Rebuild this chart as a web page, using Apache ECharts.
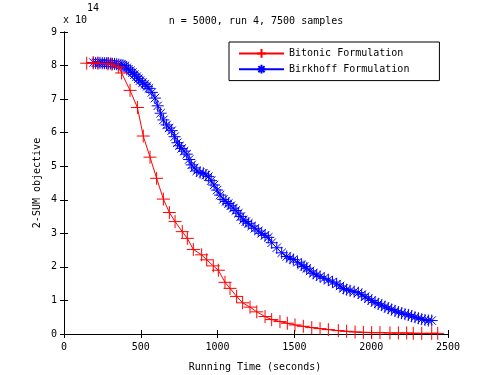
<!DOCTYPE html>
<html>
<head>
<meta charset="utf-8">
<script src="https://cdn.jsdelivr.net/npm/echarts@6/dist/echarts.min.js"></script>
<style>
  html, body { margin: 0; padding: 0; background: #fff; }
  #main { width: 495px; height: 375px; }
</style>
</head>
<body>
<div id="main"></div>
<script>
// values in units of 1e14
var bitonicX = [148, 190, 221, 286, 312, 354, 375, 430, 478, 516, 560, 603, 647, 686, 723, 770, 803, 842, 896, 929,
    972, 1005, 1048, 1081, 1124, 1163, 1211, 1255, 1309, 1352, 1406, 1454, 1504, 1558, 1613, 1667, 1721, 1786, 1840,
    1895, 1949, 2003, 2057, 2122, 2177, 2231, 2274, 2329, 2394, 2433];
var bitonicY = [8.07, 8.08, 8.07, 8.05, 8.04, 7.96, 7.78, 7.26, 6.75, 5.90, 5.27, 4.64, 4.02, 3.62, 3.35, 3.05, 2.85, 2.52, 2.36, 2.21,
    2.03, 1.90, 1.54, 1.36, 1.12, 0.93, 0.80, 0.66, 0.52, 0.43, 0.37, 0.32, 0.27, 0.23, 0.19, 0.16, 0.13, 0.10, 0.08,
    0.06, 0.05, 0.04, 0.04, 0.03, 0.03, 0.03, 0.02, 0.02, 0.02, 0.02];

var birkhoffX = [191, 206, 220, 234, 249, 263, 276, 289, 302, 315, 329, 343, 357, 371, 384, 397, 408, 419, 432, 445,
    459, 473, 484, 495, 511, 527, 540, 553, 572, 592, 610, 629, 647, 668, 684, 701, 720, 738, 752, 766,
    782, 799, 815, 831, 848, 864, 886, 907, 924, 940, 958, 977, 997, 1016, 1037, 1054, 1070, 1086, 1102, 1119,
    1135, 1151, 1167, 1184, 1200, 1222, 1243, 1265, 1287, 1309, 1330, 1352, 1385, 1417, 1450, 1472, 1493, 1520, 1547, 1563,
    1580, 1602, 1623, 1645, 1667, 1694, 1721, 1748, 1775, 1797, 1819, 1840, 1862, 1889, 1916, 1938, 1960, 1981, 2003, 2025,
    2046, 2068, 2089, 2111, 2133, 2155, 2177, 2198, 2220, 2242, 2263, 2285, 2307, 2329, 2350, 2372, 2394];
var birkhoffY = [8.09, 8.08, 8.08, 8.08, 8.07, 8.07, 8.07, 8.07, 8.06, 8.05, 8.05, 8.04, 8.03, 8.02, 8.01, 7.99, 7.93, 7.89, 7.84, 7.79,
    7.73, 7.67, 7.61, 7.55, 7.49, 7.44, 7.38, 7.32, 7.20, 7.03, 6.80, 6.58, 6.38, 6.23, 6.14, 6.06, 5.88, 5.70, 5.61, 5.53,
    5.45, 5.36, 5.20, 5.04, 4.95, 4.86, 4.81, 4.79, 4.74, 4.69, 4.57, 4.44, 4.29, 4.14, 4.01, 3.95, 3.89, 3.82, 3.75, 3.68,
    3.60, 3.50, 3.40, 3.35, 3.30, 3.22, 3.15, 3.07, 3.00, 2.94, 2.88, 2.72, 2.57, 2.42, 2.31, 2.26, 2.22, 2.14, 2.06, 2.01,
    1.96, 1.88, 1.81, 1.76, 1.71, 1.66, 1.61, 1.55, 1.49, 1.43, 1.36, 1.32, 1.29, 1.26, 1.23, 1.17, 1.11, 1.05, 1.00, 0.94,
    0.90, 0.86, 0.81, 0.77, 0.73, 0.69, 0.65, 0.62, 0.59, 0.57, 0.53, 0.50, 0.47, 0.44, 0.42, 0.40, 0.40];

var seriesNames = ['Bitonic Formulation', 'Birkhoff Formulation'];
var titleText = 'n = 5000, run 4, 7500 samples';
var xName = 'Running Time (seconds)';
var yName = '2-SUM objective';

function pairs(xs, ys) {
    var out = [];
    for (var i = 0; i < xs.length; i++) out.push([xs[i], ys[i]]);
    return out;
}

var font = 'DejaVu Sans Mono';
var plus = 'path://M0,5L10,5M5,0L5,10';
var star = 'path://M0,5L10,5M5,0L5,10M1.5,1.5L8.5,8.5M1.5,8.5L8.5,1.5';

var chart = echarts.init(document.getElementById('main'), null, { renderer: 'canvas' });

var axisCommon = {
    type: 'value',
    axisLine: { show: true, lineStyle: { color: '#000', width: 1 } },
    axisTick: { show: true, inside: true, length: 4, lineStyle: { color: '#000' } },
    splitLine: { show: false }
};

function plain(v) { return String(v); }

var option = {
    animation: false,
    backgroundColor: '#fff',
    grid: { left: 64, right: 47, top: 32, bottom: 41 },
    xAxis: [
        Object.assign({}, axisCommon, {
            min: 0, max: 2500, interval: 500, position: 'bottom',
            axisLabel: { color: '#000', fontFamily: font, fontSize: 10, margin: 8, formatter: plain }
        }),
        Object.assign({}, axisCommon, {
            min: 0, max: 2500, interval: 500, position: 'top',
            axisLabel: { show: false }
        })
    ],
    yAxis: [
        Object.assign({}, axisCommon, {
            min: 0, max: 9, interval: 1, position: 'left',
            axisLabel: { color: '#000', fontFamily: font, fontSize: 10, margin: 7, formatter: plain }
        }),
        Object.assign({}, axisCommon, {
            min: 0, max: 9, interval: 1, position: 'right',
            axisLabel: { show: false }
        })
    ],
    legend: {
        orient: 'vertical',
        left: 229, top: 42,
        padding: [6, 30, 6, 9],
        itemWidth: 45, itemHeight: 11, itemGap: 5,
        borderColor: '#000', borderWidth: 1,
        backgroundColor: '#fff',
        textStyle: { color: '#000', fontFamily: font, fontSize: 10 },
        data: seriesNames
    },
    graphic: [
        { type: 'text', style: { text: titleText, x: 256, y: 21, fill: '#000', font: '10px "' + font + '"', textAlign: 'center', textVerticalAlign: 'middle' } },
        { type: 'text', style: { text: 'x 10', x: 63, y: 20, fill: '#000', font: '10px "' + font + '"', textAlign: 'left', textVerticalAlign: 'middle' } },
        { type: 'text', style: { text: '14', x: 87, y: 8, fill: '#000', font: '10px "' + font + '"', textAlign: 'left', textVerticalAlign: 'middle' } },
        { type: 'text', style: { text: xName, x: 255, y: 367, fill: '#000', font: '10px "' + font + '"', textAlign: 'center', textVerticalAlign: 'middle' } },
        { type: 'text', x: 37, y: 183, rotation: Math.PI / 2, style: { text: yName, x: 0, y: 0, fill: '#000', font: '10px "' + font + '"', textAlign: 'center', textVerticalAlign: 'middle' } }
    ],
    series: [
        {
            name: seriesNames[0],
            type: 'line',
            data: pairs(bitonicX, bitonicY),
            symbol: plus,
            symbolSize: 13,
            showAllSymbol: true,
            lineStyle: { color: '#ff0000', width: 1 },
            itemStyle: { color: 'rgba(0,0,0,0)', borderColor: '#ff0000', borderWidth: 1 },
            z: 3
        },
        {
            name: seriesNames[1],
            type: 'line',
            data: pairs(birkhoffX, birkhoffY),
            symbol: star,
            symbolSize: 12,
            showAllSymbol: true,
            lineStyle: { color: '#0000ff', width: 1 },
            itemStyle: { color: 'rgba(0,0,0,0)', borderColor: '#0000ff', borderWidth: 1 },
            z: 2
        }
    ]
};

chart.setOption(option);
</script>
</body>
</html>
